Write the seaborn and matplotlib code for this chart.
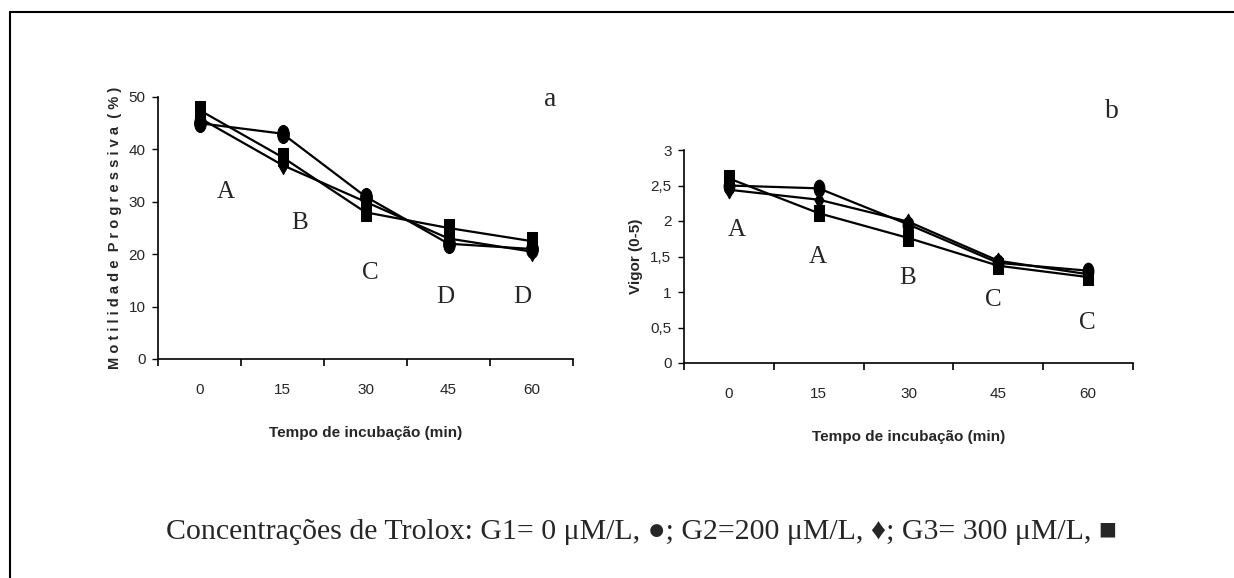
import numpy as np
import pandas as pd
import matplotlib
matplotlib.use("Agg")
import matplotlib.pyplot as plt
from matplotlib.path import Path
from matplotlib.transforms import Affine2D
from matplotlib.lines import Line2D
import seaborn as sns

# ---------------- data ----------------
times = ["0", "15", "30", "45", "60"]
groups = ["G1", "G2", "G3"]

motil_g1 = [45, 43, 31, 22, 21]
motil_g2 = [46, 37, 30, 23, 20.5]
motil_g3 = [47.5, 38.5, 28, 25, 22.5]
motil_letters = ["A", "B", "C", "D", "D"]

vigor_g1 = [2.5, 2.46, 1.95, 1.41, 1.3]
vigor_g2 = [2.44, 2.3, 1.99, 1.44, 1.25]
vigor_g3 = [2.6, 2.11, 1.76, 1.37, 1.21]
vigor_letters = ["A", "A", "B", "C", "C"]

caption = "Concentrações de Trolox: G1= 0 \u03bcM/L, \u25cf; G2=200 \u03bcM/L, \u2666; G3= 300 \u03bcM/L, \u25a0"

# ---------------- style ----------------
sns.set_theme(style="white")
plt.rcParams["font.family"] = ["Liberation Sans", "DejaVu Sans"]

def long_df(vals):
    rows = []
    for g, series in zip(groups, vals):
        for i, v in enumerate(series):
            rows.append({"pos": i, "val": v, "grp": g})
    return pd.DataFrame(rows)

# elongated markers (tall shapes like in the reference)
circ = Path.unit_circle()
ellipse = circ.transformed(Affine2D().scale(0.65, 1.0))
diamond = Path([(0, -1), (0.55, 0), (0, 1), (-0.55, 0), (0, -1)],
               [Path.MOVETO, Path.LINETO, Path.LINETO, Path.LINETO, Path.CLOSEPOLY])
rect = Path([(-0.6, -1), (0.6, -1), (0.6, 1), (-0.6, 1), (-0.6, -1)],
            [Path.MOVETO, Path.LINETO, Path.LINETO, Path.LINETO, Path.CLOSEPOLY])
markers = {"G1": ellipse, "G2": diamond, "G3": rect}
palette = {g: "black" for g in groups}

fig = plt.figure(figsize=(12.34, 5.78), dpi=100)
W, H = 1234, 578

def axes_px(l, t, r, b):
    return fig.add_axes([l / W, 1 - b / H, (r - l) / W, (b - t) / H])

ax1 = axes_px(158, 97, 573, 359)
ax2 = axes_px(684, 150, 1133, 363)

def style_axis(ax, ymax, ystep, ylabels, ylabel, ylabelsize):
    ax.set_xlim(-0.5, 4.5)
    ax.set_ylim(0, ymax)
    ax.set_xticks(np.arange(-0.5, 5.0, 1.0))
    ax.set_xticklabels([])
    ax.set_xticks(np.arange(5), minor=True)
    ax.set_xticklabels(times, minor=True)
    ax.tick_params(axis="x", which="major", direction="out", length=5, width=1.2, color="black", bottom=True)
    ax.tick_params(axis="x", which="minor", length=0, pad=17, labelsize=11)
    ax.set_yticks(np.arange(0, ymax + 1e-9, ystep))
    ax.set_yticklabels(ylabels)
    ax.tick_params(axis="y", direction="out", length=4, width=1.0, color="black", left=True, labelsize=11, pad=5)
    for s in ["top", "right"]:
        ax.spines[s].set_visible(False)
    for s in ["left", "bottom"]:
        ax.spines[s].set_color("black")
        ax.spines[s].set_linewidth(1.2)
    ax.set_xlabel("Tempo de incubação (min)", fontsize=11, fontweight="bold", labelpad=21)
    ax.set_ylabel(ylabel, fontsize=ylabelsize, fontweight="bold", labelpad=5)
    ax.set_facecolor("white")

# panel a
df1 = long_df([motil_g1, motil_g2, motil_g3])
sns.lineplot(data=df1, x="pos", y="val", hue="grp", style="grp", palette=palette,
             markers=markers, dashes=False, markersize=13, linewidth=1.6,
             markeredgecolor="black", legend=False, ax=ax1, clip_on=False)
style_axis(ax1, 50, 10, ["0", "10", "20", "30", "40", "50"],
           "M o t i l i d a d e  P r o g r e s s i v a  ( % )", 10.5)

# panel b
df2 = long_df([vigor_g1, vigor_g2, vigor_g3])
sns.lineplot(data=df2, x="pos", y="val", hue="grp", style="grp", palette=palette,
             markers=markers, dashes=False, markersize=12, linewidth=1.6,
             markeredgecolor="black", legend=False, ax=ax2, clip_on=False)
style_axis(ax2, 3, 0.5, ["0", "0,5", "1", "1,5", "2", "2,5", "3"], "Vigor (0-5)", 11)

serif = ["Liberation Serif", "DejaVu Serif", "DejaVu Sans"]

# significance letters (pixel positions of the reference)
letter_px_a = [(226, 192), (300, 223), (370, 273), (445, 297), (522, 297)]
letter_px_b = [(737, 230), (818, 257), (908, 278), (993, 300), (1087, 323)]
for (x, y), t in zip(letter_px_a, motil_letters):
    fig.text(x / W, 1 - y / H, t, fontsize=18, family=serif, ha="center", va="center")
for (x, y), t in zip(letter_px_b, vigor_letters):
    fig.text(x / W, 1 - y / H, t, fontsize=18, family=serif, ha="center", va="center")

fig.text(550 / W, 1 - 100 / H, "a", fontsize=20, family=serif, ha="center", va="center")
fig.text(1112 / W, 1 - 112 / H, "b", fontsize=20, family=serif, ha="center", va="center")

fig.text(641 / W, 1 - 532 / H, caption, fontsize=21.5, family=serif, ha="center", va="center")

# page frame (left and top lines)
fig.add_artist(Line2D([10 / W, 10 / W], [0, 1 - 12 / H], color="black", lw=1.5, transform=fig.transFigure))
fig.add_artist(Line2D([10 / W, 1], [1 - 12 / H, 1 - 12 / H], color="black", lw=1.5, transform=fig.transFigure))

fig.savefig("out.png", dpi=100, facecolor="white")
